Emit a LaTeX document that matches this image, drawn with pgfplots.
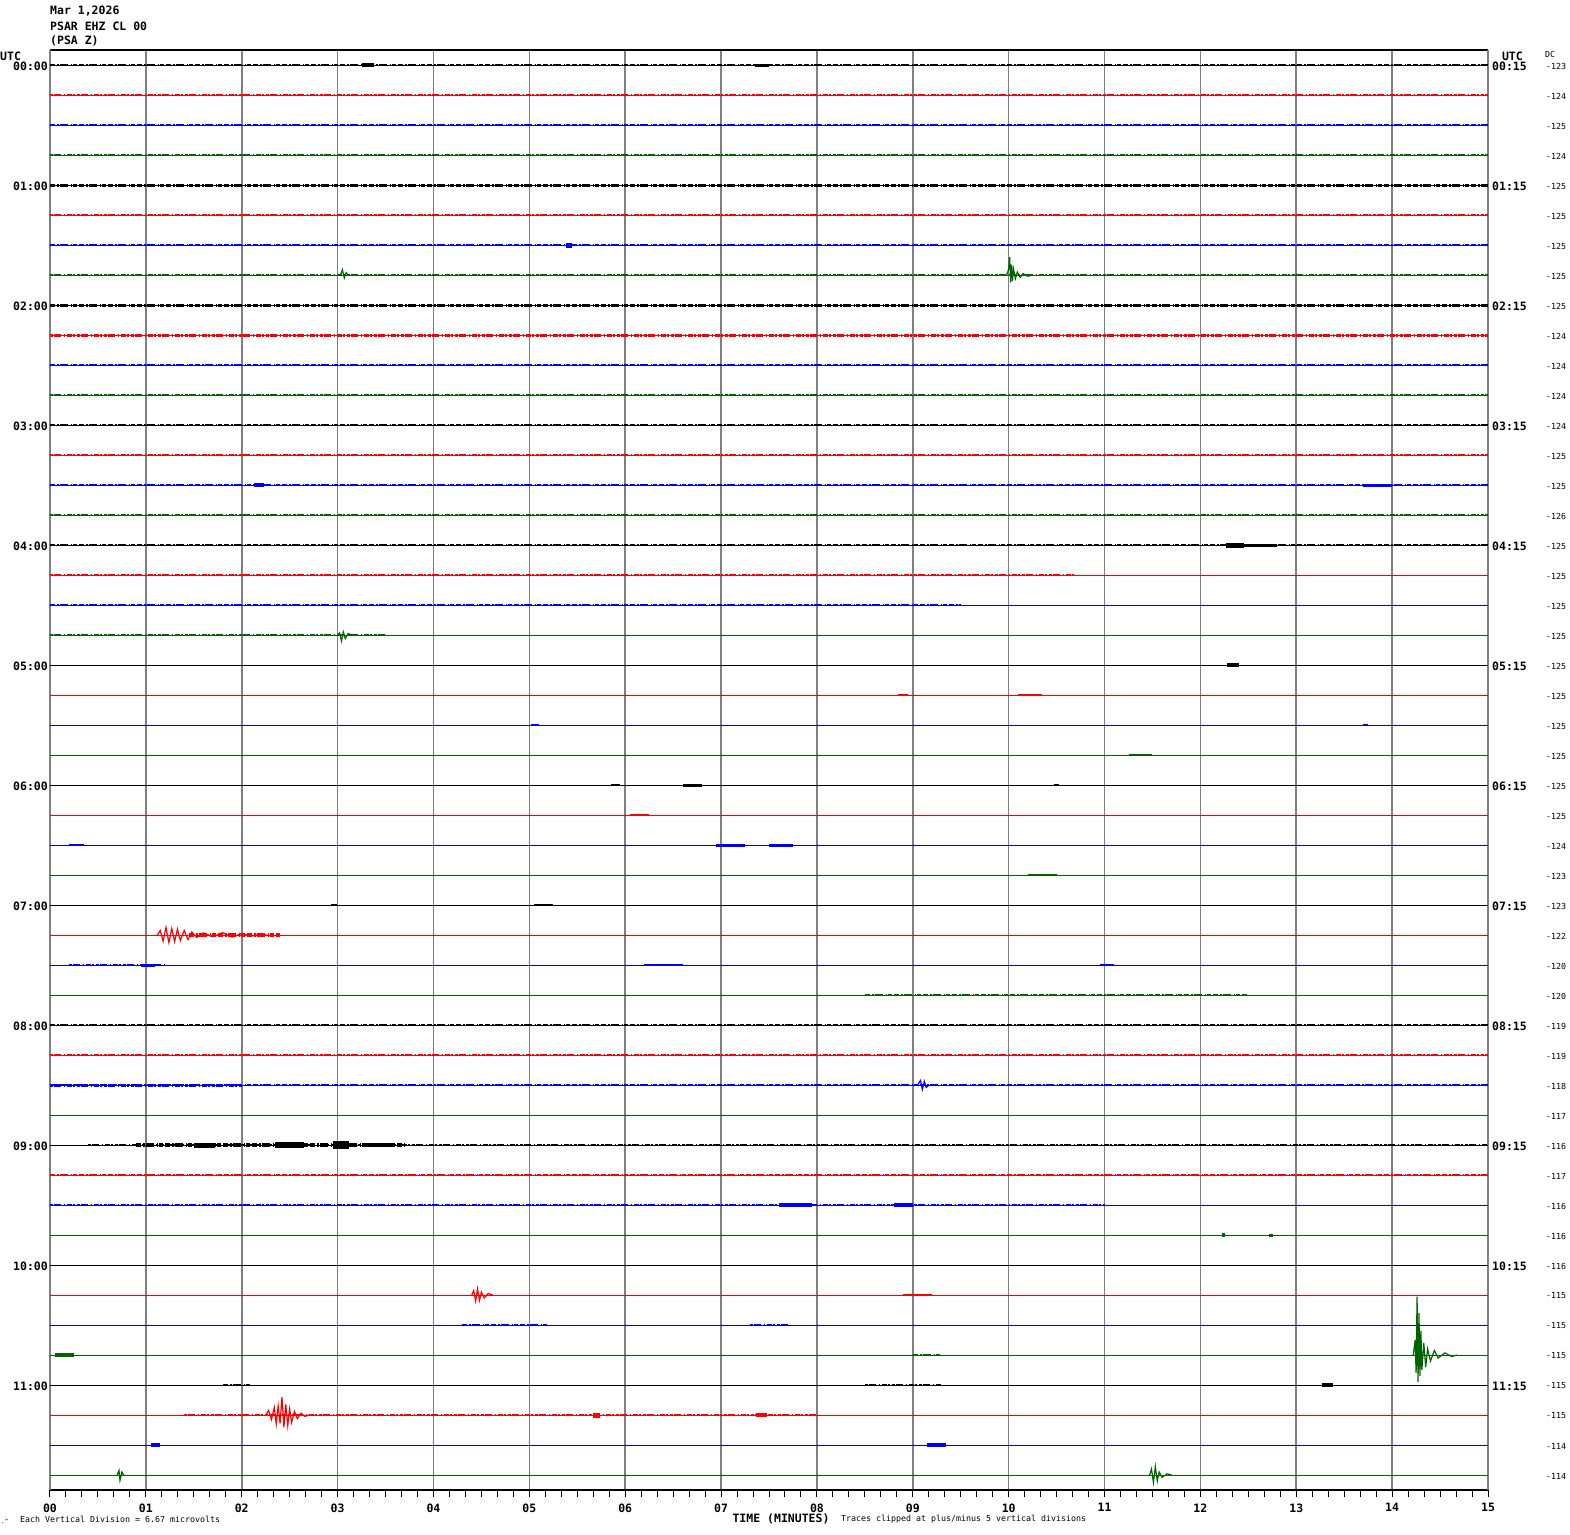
\documentclass[border=0pt]{standalone}
\usepackage{fontspec}
\setmainfont{DejaVu Sans Mono}
\usepackage{pgfplots}
\pgfplotsset{compat=1.18}
\definecolor{tgreen}{RGB}{0,100,0}
\definecolor{gridgray}{RGB}{128,128,128}
\newcommand{\lab}{\bfseries\fontsize{11.5}{12}\selectfont}
\newcommand{\sm}{\fontsize{8.3}{9}\selectfont}
% noise texture: thick broken band over the base trace
\tikzset{
  nA/.style={line width=#1, dash pattern=on 5pt off 2pt on 2pt off 1pt on 8pt off 3pt on 1pt off 1pt on 4pt off 2pt},
  nB/.style={line width=#1, dash pattern=on 3pt off 1pt on 7pt off 3pt on 1pt off 2pt on 5pt off 1pt on 2pt off 2pt},
  blob/.style={line width=#1},
}
\begin{document}
\begin{tikzpicture}[x=1pt,y=1pt]
\useasboundingbox (0pt,0pt) rectangle (1570pt,1534pt);
\node[anchor=west,inner sep=0,font=\lab] at (50pt,1523pt) {Mar 1,2026};
\node[anchor=west,inner sep=0,font=\lab] at (50pt,1508pt) {PSAR EHZ CL 00};
\node[anchor=west,inner sep=0,font=\lab] at (50pt,1493pt) {(PSA Z)};

\begin{axis}[
    at={(50pt,44pt)},anchor=south west,
    scale only axis,width=1438pt,height=1440pt,
    xmin=0,xmax=15,ymin=-47.5,ymax=0.5,
    xtick={0,...,15},
    xticklabels={00,01,02,03,04,05,06,07,08,09,10,11,12,13,14,15},
    xticklabel style={font=\lab,yshift=-3pt},
    minor x tick num=5,
    xtick pos=lower,
    ytick=\empty,
    tick align=outside,
    major tick length=7pt,minor tick length=7pt,
    tick style={black,line width=1pt},
    xmajorgrids,
    grid style={gridgray,line width=1.6pt},
    separate axis lines,
    x axis line style={black,line width=1.3pt},
    y axis line style={gridgray,line width=1.6pt},
    no markers,
    clip=false,
]
% ---- base traces, 15 minutes each
\addplot[black,line width=1pt] coordinates {(0,0)(15,0)};
\addplot[red,line width=1pt] coordinates {(0,-1)(15,-1)};
\addplot[blue,line width=1pt] coordinates {(0,-2)(15,-2)};
\addplot[tgreen,line width=1pt] coordinates {(0,-3)(15,-3)};
\addplot[black,line width=1pt] coordinates {(0,-4)(15,-4)};
\addplot[red,line width=1pt] coordinates {(0,-5)(15,-5)};
\addplot[blue,line width=1pt] coordinates {(0,-6)(15,-6)};
\addplot[tgreen,line width=1pt] coordinates {(0,-7)(15,-7)};
\addplot[black,line width=1pt] coordinates {(0,-8)(15,-8)};
\addplot[red,line width=1pt] coordinates {(0,-9)(15,-9)};
\addplot[blue,line width=1pt] coordinates {(0,-10)(15,-10)};
\addplot[tgreen,line width=1pt] coordinates {(0,-11)(15,-11)};
\addplot[black,line width=1pt] coordinates {(0,-12)(15,-12)};
\addplot[red,line width=1pt] coordinates {(0,-13)(15,-13)};
\addplot[blue,line width=1pt] coordinates {(0,-14)(15,-14)};
\addplot[tgreen,line width=1pt] coordinates {(0,-15)(15,-15)};
\addplot[black,line width=1pt] coordinates {(0,-16)(15,-16)};
\addplot[red,line width=1pt] coordinates {(0,-17)(15,-17)};
\addplot[blue,line width=1pt] coordinates {(0,-18)(15,-18)};
\addplot[tgreen,line width=1pt] coordinates {(0,-19)(15,-19)};
\addplot[black,line width=1pt] coordinates {(0,-20)(15,-20)};
\addplot[red,line width=1pt] coordinates {(0,-21)(15,-21)};
\addplot[blue,line width=1pt] coordinates {(0,-22)(15,-22)};
\addplot[tgreen,line width=1pt] coordinates {(0,-23)(15,-23)};
\addplot[black,line width=1pt] coordinates {(0,-24)(15,-24)};
\addplot[red,line width=1pt] coordinates {(0,-25)(15,-25)};
\addplot[blue,line width=1pt] coordinates {(0,-26)(15,-26)};
\addplot[tgreen,line width=1pt] coordinates {(0,-27)(15,-27)};
\addplot[black,line width=1pt] coordinates {(0,-28)(15,-28)};
\addplot[red,line width=1pt] coordinates {(0,-29)(15,-29)};
\addplot[blue,line width=1pt] coordinates {(0,-30)(15,-30)};
\addplot[tgreen,line width=1pt] coordinates {(0,-31)(15,-31)};
\addplot[black,line width=1pt] coordinates {(0,-32)(15,-32)};
\addplot[red,line width=1pt] coordinates {(0,-33)(15,-33)};
\addplot[blue,line width=1pt] coordinates {(0,-34)(15,-34)};
\addplot[tgreen,line width=1pt] coordinates {(0,-35)(15,-35)};
\addplot[black,line width=1pt] coordinates {(0,-36)(15,-36)};
\addplot[red,line width=1pt] coordinates {(0,-37)(15,-37)};
\addplot[blue,line width=1pt] coordinates {(0,-38)(15,-38)};
\addplot[tgreen,line width=1pt] coordinates {(0,-39)(15,-39)};
\addplot[black,line width=1pt] coordinates {(0,-40)(15,-40)};
\addplot[red,line width=1pt] coordinates {(0,-41)(15,-41)};
\addplot[blue,line width=1pt] coordinates {(0,-42)(15,-42)};
\addplot[tgreen,line width=1pt] coordinates {(0,-43)(15,-43)};
\addplot[black,line width=1pt] coordinates {(0,-44)(15,-44)};
\addplot[red,line width=1pt] coordinates {(0,-45)(15,-45)};
\addplot[blue,line width=1pt] coordinates {(0,-46)(15,-46)};
\addplot[tgreen,line width=1pt] coordinates {(0,-47)(15,-47)};

% ---- background noise bands
\addplot[black,nA=2.2pt] coordinates {(0,0)(15,0)};
\addplot[red,nB=2.2pt] coordinates {(0,-1)(15,-1)};
\addplot[blue,nA=2.2pt] coordinates {(0,-2)(15,-2)};
\addplot[tgreen,nB=2.2pt] coordinates {(0,-3)(15,-3)};
\addplot[black,nA=3pt] coordinates {(0,-4)(15,-4)};
\addplot[red,nB=2.6pt] coordinates {(0,-5)(15,-5)};
\addplot[blue,nA=2.6pt] coordinates {(0,-6)(15,-6)};
\addplot[tgreen,nB=2.2pt] coordinates {(0,-7)(15,-7)};
\addplot[black,nA=3pt] coordinates {(0,-8)(15,-8)};
\addplot[red,nB=3pt] coordinates {(0,-9)(15,-9)};
\addplot[blue,nA=2.6pt] coordinates {(0,-10)(15,-10)};
\addplot[tgreen,nB=1.8pt] coordinates {(0,-11)(15,-11)};
\addplot[black,nA=2.2pt] coordinates {(0,-12)(15,-12)};
\addplot[red,nB=2.2pt] coordinates {(0,-13)(15,-13)};
\addplot[blue,nA=2.6pt] coordinates {(0,-14)(15,-14)};
\addplot[tgreen,nB=2.2pt] coordinates {(0,-15)(15,-15)};
\addplot[black,nA=2.2pt] coordinates {(0,-16)(15,-16)};
\addplot[red,nB=1.8pt] coordinates {(0,-17)(10.7,-17)};
\addplot[blue,nA=1.5pt] coordinates {(0,-18)(9.5,-18)};
\addplot[tgreen,nB=1.5pt] coordinates {(0,-19)(3.5,-19)};
\addplot[tgreen,nA=1.5pt] coordinates {(8.5,-31)(12.5,-31)};
\addplot[black,nA=2.6pt] coordinates {(0,-32)(15,-32)};
\addplot[red,nB=2.6pt] coordinates {(0,-33)(15,-33)};
\addplot[blue,nA=1.8pt] coordinates {(0,-34)(15,-34)};
\addplot[blue,nB=3pt] coordinates {(0,-34)(2.0,-34)};
\addplot[black,nB=1.8pt] coordinates {(0.4,-36)(15,-36)};
\addplot[black,nA=3.5pt] coordinates {(0.9,-36)(3.7,-36)};
\addplot[red,nA=2.2pt] coordinates {(0,-37)(15,-37)};
\addplot[blue,nB=1.5pt] coordinates {(0,-38)(11,-38)};
\addplot[red,nB=2.2pt] coordinates {(1.4,-45)(8,-45)};

% ---- small wave groups
\addplot[black,blob=4.5pt] coordinates {(3.25,0)(3.38,0)};
\addplot[black,blob=3pt] coordinates {(7.35,0)(7.5,0)};
\addplot[blue,blob=5pt] coordinates {(5.38,-6)(5.45,-6)};
\addplot[blue,blob=4pt] coordinates {(2.13,-14)(2.23,-14)};
\addplot[blue,blob=3pt] coordinates {(13.7,-14)(14.0,-14)};
\addplot[black,blob=5pt] coordinates {(12.27,-16)(12.45,-16)};
\addplot[black,blob=3pt] coordinates {(12.45,-16)(12.8,-16)};
\addplot[black,blob=4pt] coordinates {(12.28,-20)(12.4,-20)};
\addplot[red,blob=2.5pt] coordinates {(10.1,-21)(10.35,-21)};
\addplot[red,blob=2pt] coordinates {(8.85,-21)(8.95,-21)};
\addplot[blue,blob=2.5pt] coordinates {(5.02,-22)(5.1,-22)};
\addplot[blue,blob=2pt] coordinates {(13.7,-22)(13.75,-22)};
\addplot[tgreen,blob=2pt] coordinates {(11.25,-23)(11.5,-23)};
\addplot[black,blob=2.5pt] coordinates {(5.85,-24)(5.95,-24)};
\addplot[black,blob=3pt] coordinates {(6.6,-24)(6.8,-24)};
\addplot[black,blob=2.5pt] coordinates {(10.47,-24)(10.52,-24)};
\addplot[red,blob=2.5pt] coordinates {(6.05,-25)(6.25,-25)};
\addplot[blue,blob=2.5pt] coordinates {(0.2,-26)(0.35,-26)};
\addplot[blue,blob=3pt] coordinates {(6.95,-26)(7.25,-26)};
\addplot[blue,blob=3pt] coordinates {(7.5,-26)(7.75,-26)};
\addplot[tgreen,blob=2pt] coordinates {(10.2,-27)(10.5,-27)};
\addplot[black,blob=2.5pt] coordinates {(2.93,-28)(2.99,-28)};
\addplot[black,blob=2.5pt] coordinates {(5.05,-28)(5.25,-28)};
\addplot[red,nA=3.5pt] coordinates {(1.45,-29)(2.4,-29)};
\addplot[blue,nB=2pt] coordinates {(0.2,-30)(1.2,-30)};
\addplot[blue,blob=3pt] coordinates {(0.95,-30)(1.1,-30)};
\addplot[blue,blob=2.5pt] coordinates {(6.2,-30)(6.6,-30)};
\addplot[blue,blob=2.5pt] coordinates {(10.95,-30)(11.1,-30)};
\addplot[black,blob=5pt] coordinates {(1.5,-36)(1.72,-36)};
\addplot[black,blob=6pt] coordinates {(2.35,-36)(2.65,-36)};
\addplot[black,blob=8pt] coordinates {(2.95,-36)(3.12,-36)};
\addplot[black,blob=4pt] coordinates {(3.3,-36)(3.6,-36)};
\addplot[blue,blob=3.5pt] coordinates {(7.6,-38)(7.95,-38)};
\addplot[blue,blob=3.5pt] coordinates {(8.8,-38)(9.0,-38)};
\addplot[tgreen,blob=4pt] coordinates {(12.23,-39)(12.26,-39)};
\addplot[tgreen,blob=3pt] coordinates {(12.72,-39)(12.76,-39)};
\addplot[red,blob=2.5pt] coordinates {(8.9,-41)(9.2,-41)};
\addplot[blue,nA=2.2pt] coordinates {(4.3,-42)(5.2,-42)};
\addplot[blue,nB=2.2pt] coordinates {(7.3,-42)(7.7,-42)};
\addplot[tgreen,blob=3.5pt] coordinates {(0.05,-43)(0.25,-43)};
\addplot[tgreen,nA=2pt] coordinates {(9.0,-43)(9.3,-43)};
\addplot[black,nA=2.2pt] coordinates {(1.8,-44)(2.1,-44)};
\addplot[black,nB=2.2pt] coordinates {(8.5,-44)(9.3,-44)};
\addplot[black,blob=3.5pt] coordinates {(13.27,-44)(13.38,-44)};
\addplot[red,blob=5pt] coordinates {(5.66,-45)(5.74,-45)};
\addplot[red,blob=4pt] coordinates {(7.36,-45)(7.48,-45)};
\addplot[blue,blob=3.5pt] coordinates {(1.05,-46)(1.15,-46)};
\addplot[blue,blob=3.5pt] coordinates {(9.15,-46)(9.35,-46)};

% ---- earthquakes
\addplot[tgreen,line width=1.2pt] coordinates {(3.03,-7)(3.05,-6.82)(3.07,-7.1)(3.09,-6.92)(3.11,-7)};
\addplot[tgreen,line width=1.2pt] coordinates {(9.98,-7)(10.0,-6.8)(10.01,-6.4)(10.02,-7.25)(10.03,-6.65)(10.04,-7.2)(10.05,-6.8)(10.07,-7.12)(10.09,-6.9)(10.12,-7.08)(10.15,-6.95)(10.2,-7.04)(10.25,-7)};
\addplot[tgreen,line width=1.2pt] coordinates {(3.0,-19)(3.02,-18.93)(3.04,-19.2)(3.06,-18.9)(3.08,-19.12)(3.11,-18.95)(3.15,-19)};
\addplot[red,line width=1.2pt] coordinates {(1.12,-29)(1.15,-28.85)(1.18,-29.2)(1.21,-28.75)(1.24,-29.25)(1.27,-28.78)(1.30,-29.22)(1.33,-28.8)(1.36,-29.18)(1.40,-28.85)(1.44,-29.15)(1.48,-28.9)(1.53,-29.08)(1.60,-28.93)(1.70,-29.06)(1.80,-28.92)(1.90,-29.07)(2.0,-28.95)(2.1,-29.04)(2.2,-28.96)(2.3,-29.03)(2.4,-29)};
\addplot[blue,line width=1.2pt] coordinates {(9.05,-34)(9.08,-33.85)(9.10,-34.15)(9.12,-33.88)(9.14,-34.08)(9.17,-34)};
\addplot[red,line width=1.2pt] coordinates {(4.40,-41)(4.42,-40.85)(4.44,-41.2)(4.46,-40.8)(4.48,-41.18)(4.50,-40.9)(4.53,-41.1)(4.57,-40.95)(4.62,-41)};
\addplot[tgreen,line width=1.2pt] coordinates {(14.22,-43)(14.24,-42.5)(14.25,-43.6)(14.26,-41.05)(14.27,-43.9)(14.28,-41.6)(14.29,-43.7)(14.30,-42.2)(14.31,-43.5)(14.33,-42.6)(14.35,-43.4)(14.37,-42.8)(14.40,-43.2)(14.44,-42.85)(14.48,-43.1)(14.55,-42.93)(14.62,-43.05)(14.68,-43)};
\addplot[red,line width=1.2pt] coordinates {(2.25,-45)(2.28,-44.85)(2.31,-45.15)(2.34,-44.75)(2.36,-45.3)(2.38,-44.7)(2.40,-45.28)(2.42,-44.4)(2.44,-45.4)(2.46,-44.65)(2.48,-45.35)(2.50,-44.8)(2.52,-45.25)(2.55,-44.88)(2.58,-45.12)(2.62,-44.94)(2.66,-45.05)(2.7,-45)};
\addplot[tgreen,line width=1.2pt] coordinates {(0.70,-47)(0.72,-46.85)(0.73,-47.18)(0.75,-46.9)(0.77,-47)};
\addplot[tgreen,line width=1.2pt] coordinates {(11.47,-47)(11.49,-46.8)(11.51,-47.25)(11.53,-46.72)(11.55,-47.2)(11.57,-46.9)(11.60,-47.08)(11.65,-46.96)(11.7,-47)};
\end{axis}

% ---- row labels
\node[anchor=west,inner sep=0,font=\lab] at (0pt,1478pt) {UTC};
\node[anchor=east,inner sep=0,font=\lab] at (1523pt,1478pt) {UTC};
\node[anchor=west,inner sep=0,font=\sm] at (1545pt,1480pt) {DC};
\foreach \h [count=\k from 0] in {00,01,02,03,04,05,06,07,08,09,10,11} {
  \node[anchor=east,inner sep=0,font=\lab] at (48pt,1468pt-120pt*\k) {\h:00};
  \node[anchor=west,inner sep=0,font=\lab] at (1492pt,1468pt-120pt*\k) {\h:15};
}
\foreach \v [count=\k from 0] in {-123,-124,-125,-124,-125,-125,-125,-125,-125,-124,-124,-124,-124,-125,-125,-126,-125,-125,-125,-125,-125,-125,-125,-125,-125,-125,-124,-123,-123,-122,-120,-120,-119,-119,-118,-117,-116,-117,-116,-116,-116,-115,-115,-115,-115,-115,-114,-114} {
  \node[anchor=west,inner sep=0,font=\sm] at (1546pt,1468pt-30pt*\k) {\v};
}

% ---- footer
\node[anchor=center,inner sep=0,font=\lab] at (781pt,15pt) {TIME (MINUTES)};
\node[anchor=west,inner sep=0,font=\sm] at (20pt,15pt) {Each Vertical Division =    6.67 microvolts};
\node[anchor=west,inner sep=0,font=\sm] at (841pt,15pt) {Traces clipped at plus/minus 5 vertical divisions};
\node[anchor=west,inner sep=0,font=\fontsize{6}{6}\selectfont] at (1pt,13pt) {.\^{}};
\end{tikzpicture}
\end{document}
